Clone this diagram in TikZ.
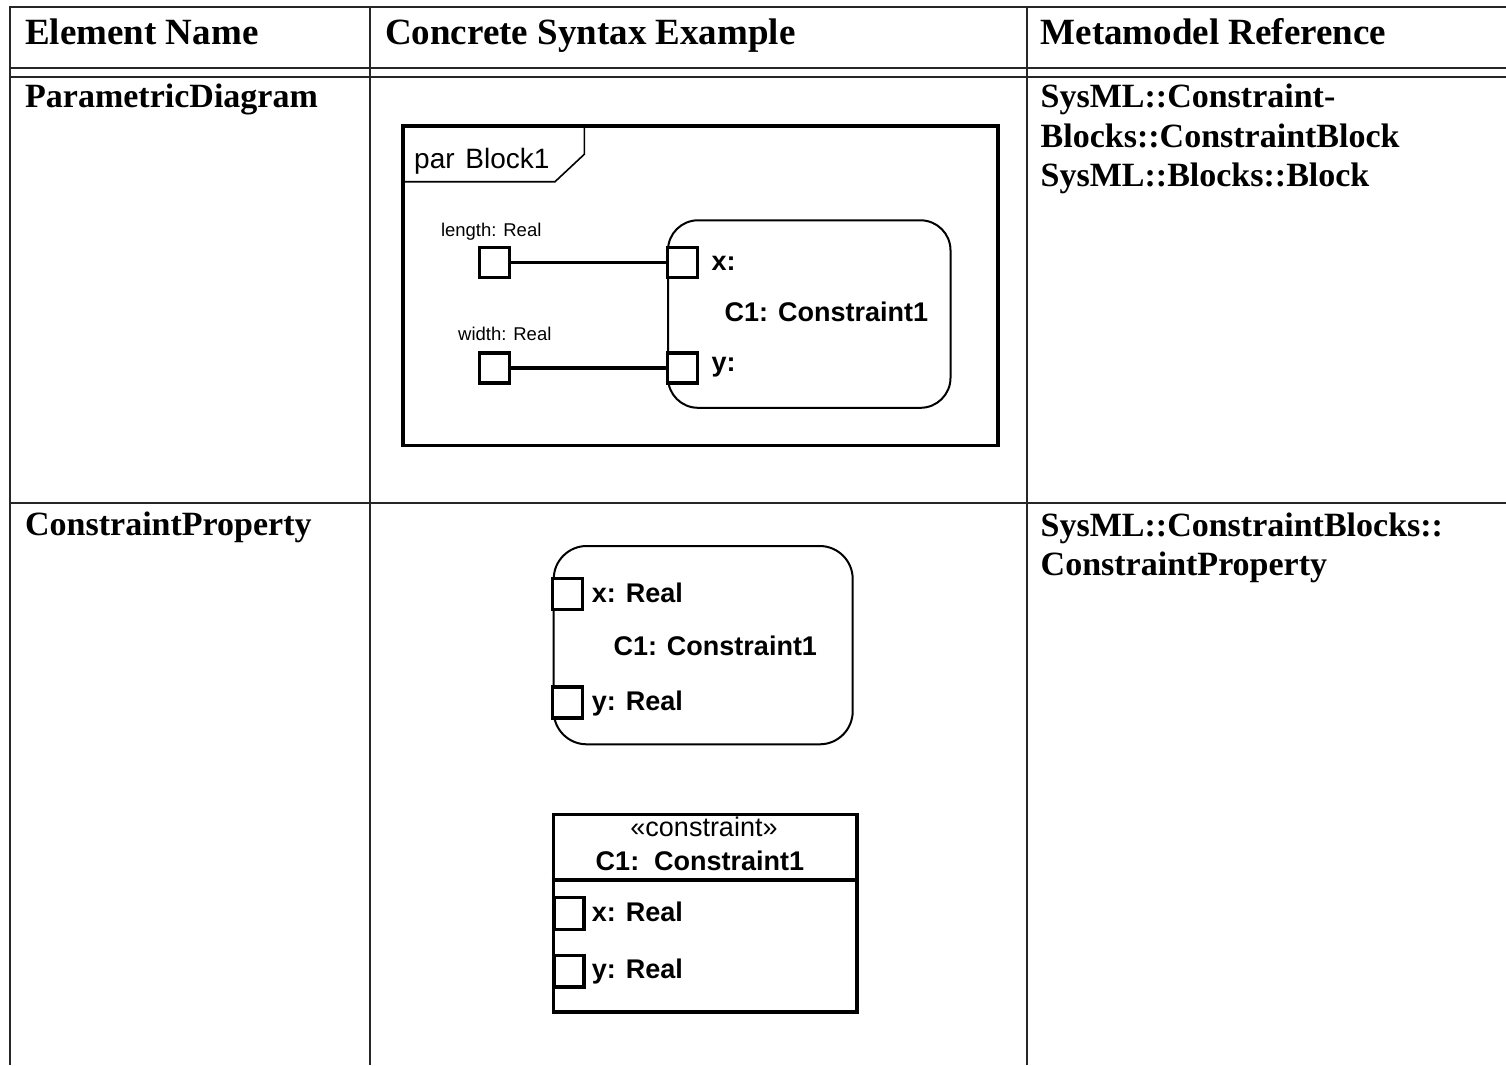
\documentclass[tikz,border=0pt]{standalone}
\usepackage{fontspec}
\setmainfont{Liberation Serif}
\newfontfamily\diag{Liberation Sans}
\begin{document}
\begin{tikzpicture}[x=1pt,y=-1pt,
  rule/.style={line width=2pt, black!85},
  hdr/.style={anchor=base west, inner sep=0pt, font=\fontsize{37}{40}\selectfont\bfseries},
  cell/.style={anchor=base west, inner sep=0pt, font=\fontsize{34}{40}\selectfont\bfseries},
  port/.style={draw, fill=white, line width=3.5pt, minimum width=30pt, minimum height=30pt, inner sep=0pt},
  wire/.style={line width=3.2pt},
  blk/.style={draw, inner sep=0pt, anchor=north west},
  small/.style={anchor=base west, inner sep=0pt, font=\diag\fontsize{18.5}{20}\selectfont},
  lbl/.style={anchor=base west, inner sep=0pt, font=\diag\fontsize{27}{30}\selectfont\bfseries},
]
\useasboundingbox (0,0) rectangle (1506,1065);

% table rules
\draw[rule] (9,7.5) -- (1506,7.5);
\draw[rule] (9,67.5) -- (1506,67.5);
\draw[rule] (9,77) -- (1506,77);
\draw[rule] (9,502.5) -- (1506,502.5);
\draw[rule] (9.5,7.5) -- (9.5,1065);
\draw[rule] (369.5,7.5) -- (369.5,1065);
\draw[rule] (1026.5,7.5) -- (1026.5,1065);

% header row
\node[hdr] (h1) at (25,45) {Element Name};
\node[hdr] (h2) at (385,45) {Concrete Syntax Example};
\node[hdr] (h3) at (1040.5,45) {Metamodel Reference};

% element names
\node[cell] (e1) at (25,107.5) {ParametricDiagram};
\node[cell] (e2) at (25,535) {ConstraintProperty};

% metamodel references
\node[cell] (m1a) at (1040.5,107) {SysML::Constraint-};
\node[cell] (m1b) at (1040.5,147) {Blocks::ConstraintBlock};
\node[cell] (m1c) at (1040.5,186.5) {SysML::Blocks::Block};
\node[cell] (m2a) at (1040.5,536.5) {SysML::ConstraintBlocks::};
\node[cell] (m2b) at (1040.5,575.5) {ConstraintProperty};

% parametric diagram frame
\node[blk, line width=3.5pt, minimum width=595pt, minimum height=319.5pt] (frame) at (401,124) {};
\draw[line width=1.6pt] (frame.west |- 0,181.7) -- (555,181.7) -- (584.3,154.3) -- (584.3,124);
\node[anchor=base west, inner sep=0pt, font=\diag\fontsize{28}{30}\selectfont] (ftitle) at (414,168.3) {par\hspace{3pt} Block1};

% constraint property inside the frame
\node[blk, line width=2pt, rounded corners=30pt, minimum width=282.5pt, minimum height=187.5pt] (c1) at (667,219.3) {};
\node[lbl] (c1name) at (724.5,321.7) {C1: Constraint1};
\node[port] (px) at (682.5,262.5) {};
\node[port] (py) at (682.5,368) {};
\node[lbl] (pxl) at (711.4,270.7) {x:};
\node[lbl] (pyl) at (711.4,371.7) {y:};

% value properties of the block
\node[port] (len) at (494.5,262.5) {};
\node[port] (wid) at (494.5,368) {};
\node[small] (lenl) at (440.8,236.7) {length: Real};
\node[small] (widl) at (458,340) {width: Real};

% binding connectors
\draw[wire] (len) -- (px);
\draw[wire] (wid) -- (py);

% constraint property, rounded notation
\node[blk, line width=2pt, rounded corners=33pt, minimum width=299pt, minimum height=198.3pt] (cp) at (552.7,545) {};
\node[port, minimum height=31pt] (cpx) at (567.7,594) {};
\node[port, minimum height=31pt] (cpy) at (567.7,702.5) {};
\node[lbl] (cpxl) at (591.7,602.7) {x: Real};
\node[lbl] (cpname) at (613.3,655) {C1: Constraint1};
\node[lbl] (cpyl) at (591.7,710) {y: Real};

% constraint property, rectangle notation
\node[blk, line width=3.5pt, minimum width=303.3pt, minimum height=197.3pt] (cb) at (551.7,812.7) {};
\draw[line width=3.2pt] (cb.west |- 0,880) -- (cb.east |- 0,880);
\node[anchor=base, inner sep=0pt, font=\diag\fontsize{27}{30}\selectfont] (cbst) at (704,836.7) {«constraint»};
\node[anchor=base, inner sep=0pt, font=\diag\fontsize{27}{30}\selectfont\bfseries] (cbname) at (700,870) {C1:\ \ Constraint1};
\node[port, minimum height=31.6pt] (cbx) at (569,913.5) {};
\node[port, minimum height=31.6pt] (cby) at (569,971.3) {};
\node[lbl] (cbxl) at (591.7,921.7) {x: Real};
\node[lbl] (cbyl) at (591.7,978.3) {y: Real};
\end{tikzpicture}
\end{document}
